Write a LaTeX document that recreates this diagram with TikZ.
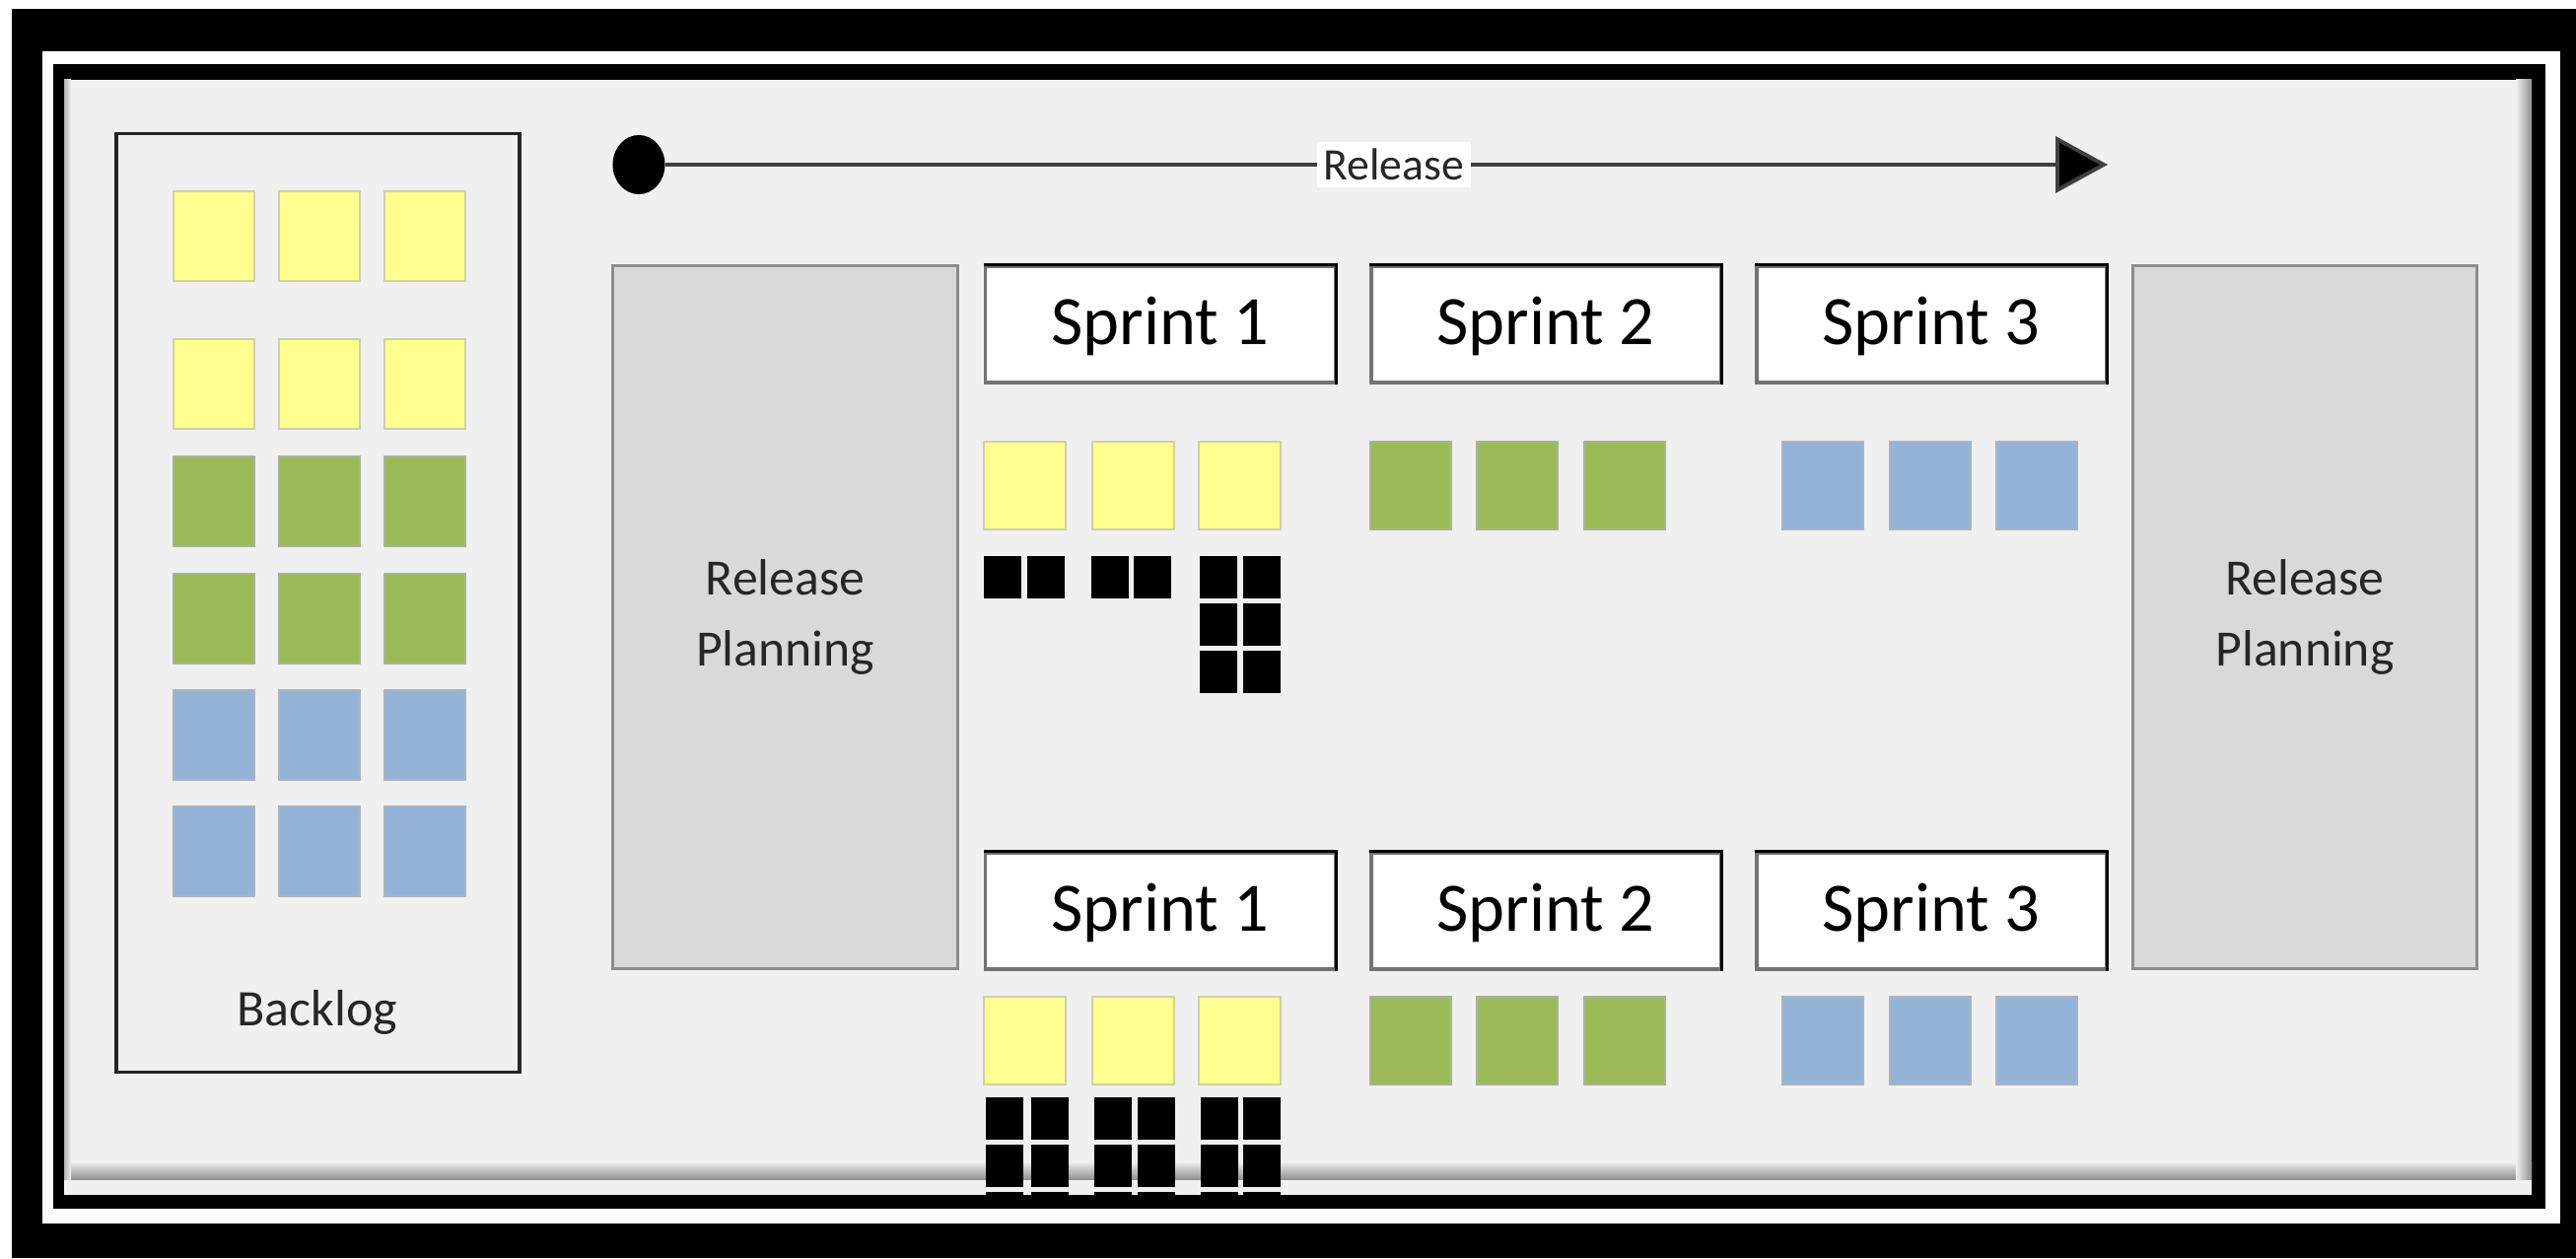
\documentclass[tikz,border=0pt]{standalone}
\usepackage{fontspec}
\setmainfont{Carlito}
\usetikzlibrary{arrows.meta,shapes.geometric}
\definecolor{panel}{HTML}{F0F0F0}
\definecolor{yel}{HTML}{FFFF8F}
\definecolor{yelb}{HTML}{CFCFA8}
\definecolor{grn}{HTML}{9BBB59}
\definecolor{grnb}{HTML}{A9B294}
\definecolor{blu}{HTML}{95B3D7}
\definecolor{blub}{HTML}{A9B3C2}
\definecolor{rpfill}{HTML}{D9D9D9}
\definecolor{rpline}{HTML}{8C8C8C}
\definecolor{arrowc}{HTML}{404040}
\tikzset{
  sq/.style={fill=#1, draw=#1b, line width=0.4pt},
  blk/.style={fill=black},
  sprintbox/.style={draw=black!55, fill=white, line width=0.9pt, minimum width=3.54cm, minimum height=1.18cm,
    inner sep=0pt, text height=0.5cm, text depth=0.1cm, font=\fontsize{20}{24}\selectfont},
  edge/.style={draw=black, line width=0.9pt},
  rpbox/.style={draw=rpline, fill=rpfill, line width=0.9pt, minimum width=3.49cm, minimum height=7.12cm,
    inner sep=0pt, align=center, text=black!85, font=\fontsize{14.7}{20.5}\selectfont},
}
\begin{document}
\begin{tikzpicture}[x=0.01cm, y=-0.01cm]
\useasboundingbox (0,0) rectangle (2613,1276);
% frame
\fill[white] (0,0) rectangle (2613,1276);
\fill[black] (12,9) rectangle (2613,1276);
\fill[white] (43,52) rectangle (2597,1241);
\fill[black] (54,65) rectangle (2582,1226);
\fill[panel] (65,81) rectangle (2568,1212);
\shade[top color=panel, bottom color=black!45] (65,1178) rectangle (2568,1197);
\shade[left color=panel, right color=black!45] (2552,81) rectangle (2568,1197);
\shade[left color=black!30, right color=panel] (65,81) rectangle (72,1197);
\fill[panel] (65,1197) rectangle (2568,1212);

% backlog
\node[draw=black!85, fill=panel, line width=1pt, minimum width=4.09cm, minimum height=9.51cm, inner sep=0pt]
  (backlog) at (322.5,611.5) {};
\node[anchor=base, text=black!85, font=\fontsize{14.8}{18}\selectfont] (backlogtext) at (322,1040) {Backlog};
\foreach \r/\c in {194/yel,344/yel,463/grn,582/grn,700/blu,818/blu}
  \foreach \x in {176,283,390}
    \path[sq=\c] (\x,\r) rectangle ++(82,91);

% release arrow
\node[ellipse, fill=black, minimum width=0.53cm, minimum height=0.6cm, inner sep=0pt] (start) at (648,167) {};
\coordinate (tip) at (2138,167);
\draw[arrowc, line width=1.1pt, -{Triangle[length=0.53cm,width=0.57cm,fill=black]}] (start) -- (tip)
  node[pos=0.505, fill=white, text=black!85, inner sep=2pt, font=\fontsize{13}{15}\selectfont] (rel) {Release};

% release planning
\node[rpbox] (rp1) at (796.5,626) {Release\\Planning};
\node[rpbox] (rp2) at (2338,626) {Release\\Planning};

% sprint boxes
\foreach \n/\x in {1/1177,2/1568,3/1959} {
  \node[sprintbox] (s\n a) at (\x,329) {Sprint \n};
  \draw[edge] (s\n a.north west) -- (s\n a.north east) -- (s\n a.south east);
  \node[sprintbox] (s\n b) at (\x,924) {Sprint \n};
  \draw[edge] (s\n b.north west) -- (s\n b.north east) -- (s\n b.south east);
}

% sprint squares
\foreach \y in {448,1011} {
  \foreach \x in {998,1108,1216} \path[sq=yel] (\x,\y) rectangle ++(83,89);
  \foreach \x in {1390,1498,1607} \path[sq=grn] (\x,\y) rectangle ++(82,89);
  \foreach \x in {1808,1917,2025} \path[sq=blu] (\x,\y) rectangle ++(82,89);
}
% tasks top
\foreach \x in {998,1042,1107,1150} \path[blk] (\x,564) rectangle ++(38,43);
\foreach \x in {1217,1261} \foreach \y in {564,612,660} \path[blk] (\x,\y) rectangle ++(38,43);
% tasks bottom
\begin{scope}
\clip (65,81) rectangle (2568,1212);
\foreach \x in {1000,1046,1110,1154,1218,1261} \foreach \y in {1113,1161,1209} \path[blk] (\x,\y) rectangle ++(38,43);
\end{scope}
\end{tikzpicture}
\end{document}
